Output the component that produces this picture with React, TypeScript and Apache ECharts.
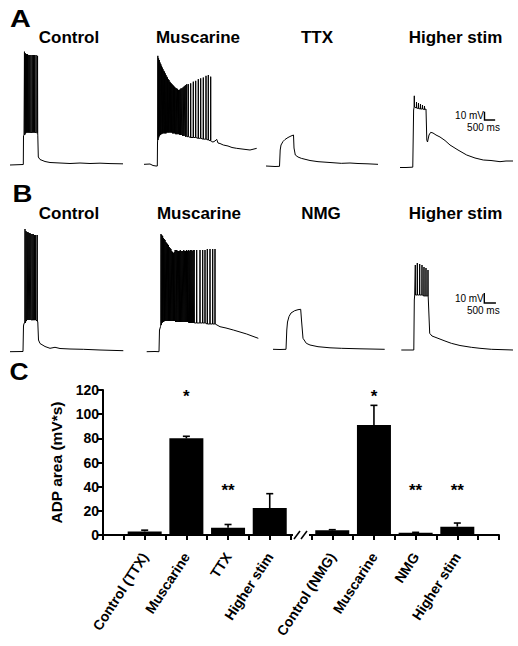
import React, { useEffect, useRef } from "react";
import * as echarts from "echarts";

const FONT = '"Liberation Sans", Arial, Helvetica, sans-serif';

// ---------- Panel C data ----------
const groupLabels = ["Control (TTX)", "Muscarine", "TTX", "Higher stim", "Control (NMG)", "Muscarine", "NMG", "Higher stim"];
const adpMean = [3.0, 80.0, 6.0, 22.3, 3.9, 91.0, 1.9, 6.9];
const adpSem = [1.0, 1.7, 2.7, 11.9, 0.5, 16.3, 0.3, 3.0];
const significance = ["", "*", "**", "", "", "*", "**", "**"];
const sigLevel = [0, 115, 37, 0, 0, 115, 37, 37];
const barSlots = [2, 4, 6, 8, 11, 13, 15, 17];
const axisBreakAt = 9.5;

// ---------- Panel A traces (time ms, membrane potential mV) ----------
const ctrlA_pre = [[0, -70], [625, -69.4], [635, -35], [658, -34]];
const ctrlA_spikes = [[680, 66, -34], [730, 64, -32], [775, 63, -31], [825, 63, -31], [880, 62, -31], [930, 62, -31], [985, 62, -31], [1045, 62, -31], [1100, 62, -31], [1160, 62, -31], [1225, 62, -31], [1295, 61, -32]];
const ctrlA_post = [[1307, -35], [1330, -60.4], [1410, -63.4], [1645, -65.8], [1880, -67], [2350, -67.6], [2820, -68.2], [3290, -67.6], [3760, -68.2], [4230, -67.8], [4700, -68.3], [5311, -68.6]];

const musA_pre = [[0, -69.2], [282, -68.8], [423, -70.6], [564, -71.2], [625, -71.2], [635, -43.6]];
const musA_spikes = [
  [650, 61, -40], [685, 58, -37], [720, 56, -35], [755, 53, -34], [790, 51, -33], [825, 49, -33], [860, 47, -32], [895, 45, -32],
  [930, 43, -32], [965, 42, -32], [1000, 40, -32], [1035, 38, -32], [1070, 36, -31], [1105, 35, -31], [1140, 33, -31], [1175, 32, -31],
  [1210, 30, -31], [1245, 29, -31], [1285, 28, -31], [1320, 27, -31], [1355, 26, -32], [1390, 25, -32], [1430, 24, -32], [1465, 23, -32],
  [1500, 22, -33], [1540, 22, -33], [1580, 21, -33], [1620, 20, -33], [1660, 20, -33], [1700, 21, -34], [1740, 22, -34], [1785, 22, -34],
  [1830, 23, -35], [1875, 24, -35], [1920, 25, -35], [1965, 26, -36], [2010, 27, -36],
  [2082, 27, -36], [2195, 28, -37], [2317, 30, -37], [2430, 31, -37], [2552, 33, -38], [2665, 34, -38], [2787, 35, -39], [2914, 37, -39], [3022, 38, -40], [3135, 36, -41],
];
const musA_post = [[3182, -42], [3243, -42.4], [3337, -41.2], [3417, -39.2], [3478, -43.6], [3572, -44.2], [3727, -46], [3948, -47.2], [4136, -49], [4357, -50], [4606, -50.8], [4982, -52], [5170, -50.8], [5297, -50]];

const ttxA = [[0, -71.2], [423, -71.8], [635, -71.6], [667, -52], [705, -46], [799, -41.8], [893, -39.4], [1034, -37], [1175, -35.2], [1293, -34], [1316, -49.6], [1377, -58], [1504, -60.4], [1659, -62], [2068, -64.6], [2444, -66], [3008, -67], [3539, -68], [3948, -67.6], [4324, -68.2], [4794, -68.6], [5264, -69.2]];

const hsA_pre = [[0, -73], [282, -73], [600, -72.6], [640, -4]];
const hsA_spikes = [[672, 13, -0.4], [776, 5.6, -1.6], [870, 4.4, -2.2], [964, 3.2, -2.8], [1058, 2, -2.8], [1152, 0.8, -3.4]];
const hsA_post = [[1222, -2.8], [1260, -40], [1293, -42.4], [1363, -34], [1443, -30.8], [1551, -31.6], [1692, -34], [1880, -36.4], [2115, -40.6], [2350, -46], [2726, -52], [3135, -58], [3525, -61.6], [3915, -64], [4277, -64.6], [4700, -66], [4982, -65.2], [5311, -65.2]];

// ---------- Panel B traces ----------
const ctrlB_pre = [[0, -71.7], [559, -71.5], [580, -46], [602, -43.3]];
const ctrlB_spikes = [[645, 51, -43], [688, 49, -41], [731, 48, -40], [774, 48, -40], [817, 47, -40], [860, 47, -40], [903, 46, -40], [950, 46, -40], [998, 46, -40], [1049, 45, -40], [1105, 45, -40], [1170, 45, -41]];
const ctrlB_post = [[1195, -42], [1226, -60], [1290, -63.5], [1505, -66.5], [1720, -68.3], [1935, -67.3], [2150, -68.5], [2580, -69], [3152, -69.3], [3870, -70], [4300, -70.3], [4872, -70.7]];

const musB_pre = [[0, -71.7], [357, -71.5], [529, -71.7], [550, -50], [593, -46.7]];
const musB_spikes = [
  [615, 46, -45], [650, 45, -43], [685, 44, -42], [720, 42, -42], [755, 41, -41], [790, 40, -41], [826, 38, -41], [862, 37, -41],
  [898, 36, -41], [934, 35, -41], [970, 33, -41], [1006, 32, -41], [1042, 31, -41], [1078, 29, -41], [1114, 28, -41], [1150, 27, -41],
  [1186, 28, -41], [1222, 30, -41], [1258, 30, -42], [1295, 30, -42], [1332, 29, -42], [1369, 29, -42], [1406, 29, -42], [1443, 30, -42],
  [1480, 29, -42], [1518, 29, -42], [1556, 29, -42], [1594, 30, -42], [1632, 29, -42], [1670, 29, -42], [1710, 30, -42], [1750, 29, -42],
  [1790, 30, -42], [1830, 29, -43], [1872, 30, -43], [1914, 30, -43], [1956, 29, -43], [2000, 30, -43], [2045, 30, -43],
  [2150, 30, -43], [2292, 30, -43], [2408, 30, -43], [2507, 30, -43], [2606, 31, -44], [2722, 31, -44], [2838, 31, -44], [2937, 31, -44],
];
const musB_post = [[2958, -44.5], [3152, -46.7], [3410, -48], [3724, -50], [4012, -52], [4300, -54], [4528, -56], [4799, -58.3]];

const nmgB = [[0, -69.3], [301, -69.5], [559, -69.3], [593, -50], [624, -42], [688, -36.5], [774, -33], [933, -30.7], [1075, -29.7], [1191, -29.3], [1225, -40], [1290, -58.3], [1432, -63.3], [1591, -65], [1935, -66.7], [2451, -67.8], [2937, -68.3], [3741, -68.8], [4803, -69.3]];

const hsB_pre = [[0, -70], [374, -70], [538, -70], [559, -20], [576, -15]];
const hsB_spikes = [[602, 15, -15], [688, 17, -15], [791, 16, -15], [890, 15, -15], [976, 13, -16], [1062, 12, -16], [1148, 10, -16]];
const hsB_post = [[1170, -16], [1221, -53.3], [1320, -56], [1578, -58.3], [1879, -61], [2150, -63.3], [2524, -65.5], [3010, -67.3], [3384, -68.3], [3870, -69.3], [4803, -70]];

// scale bars: corner [ms, mV], bar sizes
const scaleBarA = [3972, -16];
const scaleBarB = [3569, -23];
const scaleMv = 10;
const scaleMs = 500;

const titlesA = ["Control", "Muscarine", "TTX", "Higher stim"];
const titlesB = ["Control", "Muscarine", "NMG", "Higher stim"];

const SPIKE_HALF = 8;

function buildTrace(pre: number[][], spikes: number[][], post: number[][]) {
  const pts: number[][] = pre.map((p) => [p[0], p[1]]);
  for (const [t, pk, tr] of spikes) {
    pts.push([t - SPIKE_HALF, tr], [t, pk], [t + SPIKE_HALF, tr]);
  }
  for (const p of post) pts.push([p[0], p[1]]);
  return pts;
}

const rows = {
  A: { top: 40, height: 130, ymin: -76, ymax: 80, xmax: 116 * 47 },
  B: { top: 220, height: 136, ymin: -76, ymax: 60, xmax: 116 * 43 },
};

function buildOption() {
  const traces = [
    { row: rows.A, left: 10, data: buildTrace(ctrlA_pre, ctrlA_spikes, ctrlA_post) },
    { row: rows.A, left: 144, data: buildTrace(musA_pre, musA_spikes, musA_post) },
    { row: rows.A, left: 266, data: buildTrace(ttxA, [], []) },
    { row: rows.A, left: 400, data: buildTrace(hsA_pre, hsA_spikes, hsA_post), scale: scaleBarA },
    { row: rows.B, left: 10, data: buildTrace(ctrlB_pre, ctrlB_spikes, ctrlB_post) },
    { row: rows.B, left: 146.7, data: buildTrace(musB_pre, musB_spikes, musB_post) },
    { row: rows.B, left: 273, data: buildTrace(nmgB, [], []) },
    { row: rows.B, left: 401.3, data: buildTrace(hsB_pre, hsB_spikes, hsB_post), scale: scaleBarB },
  ];

  const grid: any[] = [];
  const xAxis: any[] = [];
  const yAxis: any[] = [];
  const series: any[] = [];

  traces.forEach((tr, i) => {
    grid.push({ left: tr.left, top: tr.row.top, width: 116, height: tr.row.height, outerBoundsMode: "none" });
    xAxis.push({ type: "value", gridIndex: i, min: 0, max: tr.row.xmax, show: false });
    yAxis.push({ type: "value", gridIndex: i, min: tr.row.ymin, max: tr.row.ymax, show: false });
    series.push({
      type: "line",
      xAxisIndex: i,
      yAxisIndex: i,
      data: tr.data,
      showSymbol: false,
      symbol: "none",
      silent: true,
      lineStyle: { color: "#000", width: 1 },
      z: 3,
    });
    if (tr.scale) {
      series.push({
        type: "custom",
        xAxisIndex: i,
        yAxisIndex: i,
        silent: true,
        data: [tr.scale],
        renderItem: (params: any, api: any) => {
          const t = api.value(0);
          const v = api.value(1);
          const c = api.coord([t, v]);
          const top = api.coord([t, v + scaleMv]);
          const right = api.coord([t + scaleMs, v]);
          return {
            type: "group",
            children: [
              { type: "polyline", shape: { points: [top, c, right] }, style: { stroke: "#000", lineWidth: 1.4, fill: null } },
              { type: "text", style: { text: `${scaleMv} mV`, x: c[0] - 0.5, y: (top[1] + c[1]) / 2, align: "right", verticalAlign: "middle", fontSize: 10, fontFamily: FONT, fill: "#000" } },
              { type: "text", style: { text: `${scaleMs} ms`, x: c[0] - 1, y: c[1] + 7, align: "center", verticalAlign: "middle", fontSize: 10, fontFamily: FONT, fill: "#000" } },
            ],
          };
        },
      });
    }
  });

  // Panel C
  const gi = traces.length;
  grid.push({ left: 103, right: 19, top: 390, bottom: 111, outerBoundsMode: "none" });
  xAxis.push({
    type: "value",
    gridIndex: gi,
    min: 0,
    max: 19,
    interval: 1,
    axisLine: { show: true, onZero: false, lineStyle: { color: "#000", width: 2 } },
    axisTick: { show: true, length: 5, lineStyle: { color: "#000", width: 2 } },
    splitLine: { show: false },
    axisLabel: {
      rotate: 57,
      margin: 19,
      color: "#000",
      fontSize: 14,
      fontWeight: "bold",
      fontFamily: FONT,
      showMinLabel: true,
      showMaxLabel: true,
      formatter: (v: number) => {
        const idx = barSlots.indexOf(Math.round(v));
        return idx >= 0 && Math.abs(v - barSlots[idx]) < 1e-6 ? groupLabels[idx] : "";
      },
    },
  });
  yAxis.push({
    type: "value",
    gridIndex: gi,
    min: 0,
    max: 120,
    interval: 20,
    axisLine: { show: true, lineStyle: { color: "#000", width: 2 } },
    axisTick: { show: true, length: 5, lineStyle: { color: "#000", width: 2 } },
    splitLine: { show: false },
    axisLabel: { color: "#000", fontSize: 14, fontWeight: "bold", fontFamily: FONT, margin: 4 },
    name: "ADP area (mV*s)",
    nameLocation: "middle",
    nameGap: 35,
    nameTextStyle: { color: "#000", fontSize: 15.5, fontWeight: "bold", fontFamily: FONT },
  });

  series.push({
    type: "bar",
    xAxisIndex: gi,
    yAxisIndex: gi,
    data: barSlots.map((s, i) => [s, adpMean[i]]),
    barWidth: 34,
    itemStyle: { color: "#000" },
    silent: true,
    z: 2,
  });
  series.push({
    type: "custom",
    xAxisIndex: gi,
    yAxisIndex: gi,
    silent: true,
    encode: { x: 0, y: 1 },
    data: barSlots.map((s, i) => [s, adpMean[i], adpSem[i]]),
    z: 4,
    renderItem: (params: any, api: any) => {
      const x = api.value(0);
      const m = api.value(1);
      const e = api.value(2);
      const p0 = api.coord([x, m]);
      const p1 = api.coord([x, m + e]);
      return {
        type: "group",
        children: [
          { type: "line", shape: { x1: p0[0], y1: p0[1], x2: p1[0], y2: p1[1] }, style: { stroke: "#000", lineWidth: 1.6 } },
          { type: "line", shape: { x1: p1[0] - 3.5, y1: p1[1], x2: p1[0] + 3.5, y2: p1[1] }, style: { stroke: "#000", lineWidth: 1.6 } },
        ],
      };
    },
  });
  series.push({
    type: "custom",
    xAxisIndex: gi,
    yAxisIndex: gi,
    silent: true,
    encode: { x: 0, y: 1 },
    data: barSlots.map((s, i) => [s, sigLevel[i], i]).filter((d) => significance[d[2]] !== ""),
    z: 4,
    renderItem: (params: any, api: any) => {
      const p = api.coord([api.value(0), api.value(1)]);
      return {
        type: "text",
        style: { text: significance[api.value(2)], x: p[0], y: p[1], align: "center", verticalAlign: "middle", fontSize: 17, fontWeight: "bold", fontFamily: FONT, fill: "#000" },
      };
    },
  });
  series.push({
    type: "custom",
    xAxisIndex: gi,
    yAxisIndex: gi,
    silent: true,
    encode: { x: 0, y: 1 },
    data: [[axisBreakAt, 0]],
    z: 5,
    renderItem: (params: any, api: any) => {
      const p = api.coord([api.value(0), api.value(1)]);
      return {
        type: "group",
        children: [
          { type: "rect", shape: { x: p[0] - 8, y: p[1] - 3, width: 16, height: 6 }, style: { fill: "#fff" } },
          { type: "line", shape: { x1: p[0] - 7, y1: p[1] + 4, x2: p[0] - 1, y2: p[1] - 4 }, style: { stroke: "#000", lineWidth: 1.5 } },
          { type: "line", shape: { x1: p[0], y1: p[1] + 4, x2: p[0] + 6, y2: p[1] - 4 }, style: { stroke: "#000", lineWidth: 1.5 } },
        ],
      };
    },
  });

  const titleX_A = [69, 198, 317, 455.5];
  const titleX_B = [69, 199, 321, 455.5];
  const graphic: any[] = [];
  const txt = (text: string, x: number, y: number, size: number, align = "center", scaleX = 1) => ({
    type: "text",
    x,
    y,
    scaleX,
    style: { text, x: 0, y: 0, align, verticalAlign: "middle", fontSize: size, fontWeight: "bold", fontFamily: FONT, fill: "#000" },
  });
  titlesA.forEach((t, i) => graphic.push(txt(t, titleX_A[i], 37.5, 17)));
  titlesB.forEach((t, i) => graphic.push(txt(t, titleX_B[i], 213.5, 17)));
  graphic.push(txt("A", 10, 18.5, 24, "left", 1.2));
  graphic.push(txt("B", 12.5, 193.5, 24, "left", 1.15));
  graphic.push(txt("C", 9.5, 371.5, 24, "left", 1.1));

  return {
    animation: false,
    backgroundColor: "#fff",
    grid,
    xAxis,
    yAxis,
    series,
    graphic,
  };
}

export default function App() {
  const ref = useRef<HTMLDivElement>(null);
  useEffect(() => {
    if (!ref.current) return;
    const chart = echarts.init(ref.current, undefined, { renderer: "svg" });
    chart.setOption(buildOption() as any);
    return () => chart.dispose();
  }, []);
  return <div ref={ref} style={{ position: "absolute", left: 0, top: 0, width: 518, height: 646, background: "#fff" }} />;
}
